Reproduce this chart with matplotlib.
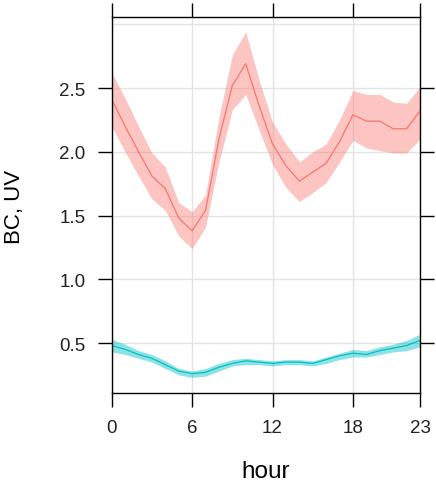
import matplotlib
matplotlib.use("Agg")
import matplotlib.pyplot as plt

plt.rcParams['font.family'] = ['Liberation Sans', 'DejaVu Sans']

hours = list(range(24))
x_ticks = [0, 6, 12, 18, 23]
y_ticks = [0.5, 1.0, 1.5, 2.0, 2.5]
y_tick_labels = ["0.5", "1.0", "1.5", "2.0", "2.5"]

bc_mean = [2.41, 2.20, 2.00, 1.81, 1.71, 1.48, 1.38, 1.54, 2.10, 2.52, 2.69, 2.36,
           2.06, 1.89, 1.77, 1.84, 1.91, 2.08, 2.29, 2.24, 2.24, 2.18, 2.18, 2.32]
bc_lower = [2.20, 2.00, 1.81, 1.63, 1.54, 1.34, 1.24, 1.41, 1.92, 2.33, 2.45, 2.17,
            1.90, 1.72, 1.61, 1.68, 1.76, 1.92, 2.09, 2.03, 2.01, 1.99, 1.99, 2.10]
bc_upper = [2.62, 2.42, 2.20, 1.99, 1.88, 1.60, 1.53, 1.66, 2.27, 2.76, 2.94, 2.56,
            2.23, 2.06, 1.92, 2.00, 2.06, 2.25, 2.48, 2.45, 2.45, 2.39, 2.38, 2.51]

uv_mean = [0.48, 0.45, 0.41, 0.38, 0.33, 0.28, 0.26, 0.27, 0.31, 0.34, 0.36, 0.35,
           0.34, 0.35, 0.35, 0.34, 0.37, 0.40, 0.42, 0.41, 0.44, 0.46, 0.48, 0.52]
uv_lower = [0.43, 0.41, 0.38, 0.35, 0.30, 0.25, 0.23, 0.24, 0.28, 0.32, 0.33, 0.33,
            0.32, 0.33, 0.33, 0.32, 0.34, 0.37, 0.39, 0.39, 0.41, 0.43, 0.44, 0.47]
uv_upper = [0.53, 0.49, 0.44, 0.41, 0.36, 0.30, 0.28, 0.30, 0.34, 0.37, 0.38, 0.37,
            0.36, 0.37, 0.37, 0.36, 0.39, 0.42, 0.45, 0.44, 0.47, 0.49, 0.52, 0.57]

red = "#F8766D"
cyan = "#00BFC4"
grid_col = "#E3E3E3"

fig = plt.figure(figsize=(4.36, 4.89), dpi=100)
ax = fig.add_axes([0.2562, 0.1943, 0.9633 - 0.2562, 0.9632 - 0.1943])

# grid
for v in x_ticks:
    ax.axvline(v, color=grid_col, lw=1.0, zorder=0)
for v in y_ticks + [3.0]:
    ax.axhline(v, color=grid_col, lw=1.0, zorder=0)

ax.fill_between(hours, bc_lower, bc_upper, color=red, alpha=0.42, lw=0, zorder=1)
ax.plot(hours, bc_mean, color=red, lw=0.9, zorder=2)
ax.fill_between(hours, uv_lower, uv_upper, color=cyan, alpha=0.45, lw=0, zorder=1)
ax.plot(hours, uv_mean, color=cyan, lw=0.9, zorder=2)

ax.set_xlim(0, 23)
ax.set_ylim(0.108, 3.057)

ax.set_xticks(x_ticks)
ax.set_xticklabels([str(v) for v in x_ticks])
ax.set_yticks(y_ticks)
ax.set_yticklabels(y_tick_labels)

ax.tick_params(axis='both', which='both', direction='out', length=10, width=1.0,
               colors='black', labelsize=13.5, pad=9,
               top=True, right=True, labeltop=False, labelright=False)
for lbl in ax.get_xticklabels() + ax.get_yticklabels():
    lbl.set_color('#222222')
for s in ax.spines.values():
    s.set_color('black')
    s.set_linewidth(1.0)

fig.text(0.034, 0.577, "BC, UV", rotation=90, ha='center', va='center',
         fontsize=16, color='black')
fig.text(0.609, 0.035, "hour", ha='center', va='center', fontsize=17.5,
         color='black')

fig.savefig("out.png", dpi=100)
